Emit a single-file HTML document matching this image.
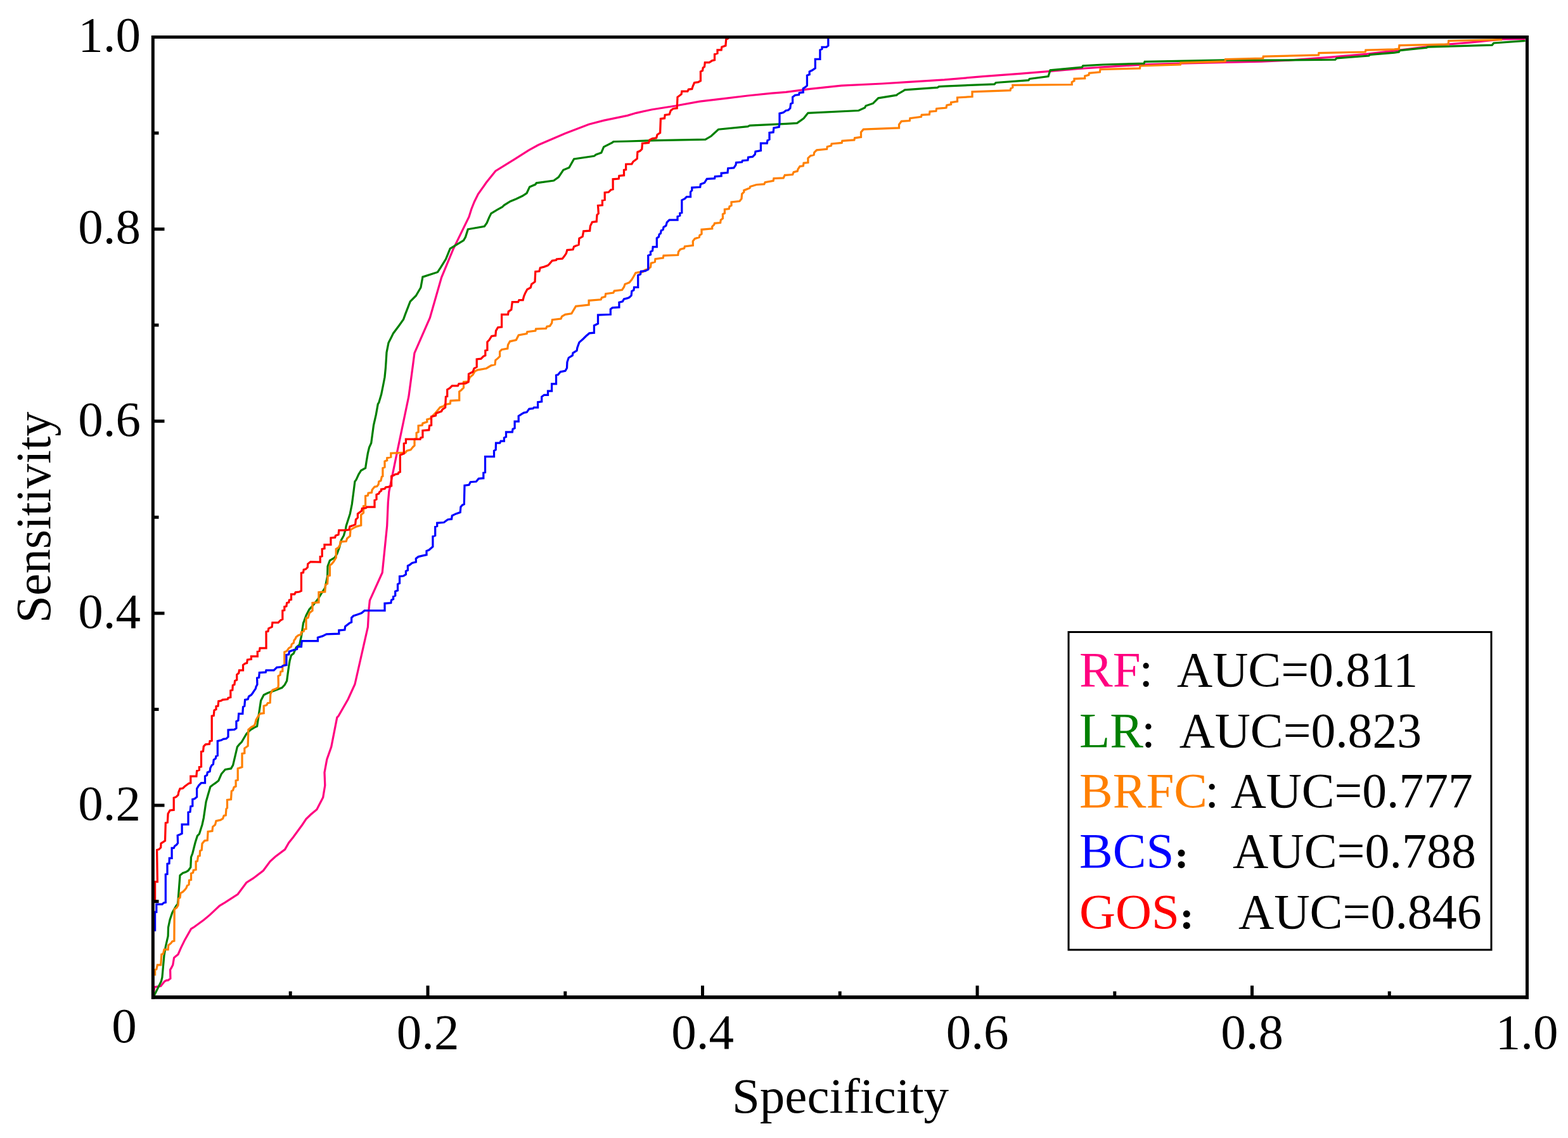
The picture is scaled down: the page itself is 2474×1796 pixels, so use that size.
<!DOCTYPE html>
<html><head><meta charset="utf-8"><style>
html,body{margin:0;padding:0;background:#fff;}
svg{display:block;}
text{font-family:"Liberation Serif","Noto Serif CJK SC",serif;font-size:79px;fill:#000;}
</style></head><body>
<svg width="2474" height="1796" viewBox="0 0 2474 1796">
<rect width="2474" height="1796" fill="#fff"/>
<g fill="none" stroke-width="3.25" stroke-linejoin="miter" stroke-miterlimit="2" stroke-linecap="butt">
<polyline points="241.5,1574.2 243.8,1557.8 253.7,1556.3 259.7,1548.7 262.8,1547.2 265.1,1547.2 268.9,1544.2 268.6,1530.5 270.4,1527.4 272.7,1522.9 274.6,1511.5 277.2,1509.2 281.0,1506.2 285.6,1495.6 291.6,1483.4 301.5,1465.9 305.3,1463.7 322.0,1451.5 331.1,1443.9 346.3,1429.5 355.4,1424.2 375.2,1411.3 388.8,1393.0 399.5,1386.2 415.4,1374.0 426.1,1359.6 434.4,1352.0 449.6,1340.6 455.7,1330.0 462.5,1321.5 476.9,1301.7 483.0,1292.6 490.0,1285.8 499.9,1277.4 509.7,1258.5 512.8,1239.5 512.0,1219.0 515.8,1198.5 522.7,1178.7 531.8,1132.4 534.0,1130.1 549.2,1103.5 559.9,1080.0 580.4,989.5 581.9,962.1 583.4,947.7 603.2,903.7 610.7,830.0 612.3,792.6 613.8,775.9 618.3,753.9 627.5,709.1 644.9,625.6 651.0,580.0 654.0,557.1 678.3,501.6 696.6,437.8 714.8,393.8 740.0,342.2 743.8,330.0 748.4,318.5 754.4,306.3 767.3,288.1 781.8,269.9 811.4,251.6 834.2,237.2 849.4,228.8 891.9,210.6 929.1,196.2 952.6,190.1 990.0,182.3 1003.7,178.3 1028.0,173.0 1065.9,167.0 1103.9,160.1 1141.9,155.6 1179.9,151.0 1217.8,147.2 1240.0,145.3 1278.0,140.4 1327.3,135.1 1391.9,132.0 1429.9,129.7 1490.0,125.9 1550.8,120.6 1611.5,116.1 1657.1,112.3 1702.6,108.5 1740.0,105.8 1806.1,101.8 1861.3,100.2 1932.9,98.5 1990.0,97.1 2034.1,95.2 2100.2,90.2 2155.3,85.3 2200.0,80.2 2248.6,74.1 2285.1,69.9 2321.5,66.8 2370.1,62.0 2406.6,61.4" stroke="#FF0080"/>
<polyline points="241.5,1574.2 243.8,1570.0 254.4,1548.7 255.9,1542.6 259.0,1507.7 261.3,1494.0 265.1,1477.3 265.5,1463.7 268.1,1451.5 271.9,1440.1 278.0,1429.5 280.2,1427.2 281.0,1421.1 284.0,1381.6 288.6,1377.8 293.2,1376.3 297.0,1374.0 300.8,1368.7 301.5,1352.8 303.8,1346.7 308.0,1330.0 311.4,1319.2 314.4,1316.2 319.0,1301.7 321.3,1291.1 325.1,1265.3 328.1,1254.7 331.9,1241.8 335.7,1238.7 340.2,1235.7 344.8,1231.9 349.4,1221.3 355.4,1214.4 364.5,1212.9 367.6,1207.6 374.4,1178.7 377.5,1174.9 381.3,1171.1 388.8,1158.2 394.9,1152.1 401.0,1148.3 405.6,1146.1 411.6,1105.8 416.2,1096.7 422.3,1093.7 432.9,1089.9 445.0,1085.3 449.2,1080.8 452.6,1074.5 454.2,1062.4 455.7,1051.7 457.2,1042.6 459.5,1034.3 463.3,1031.2 467.1,1022.1 472.4,1017.6 475.4,1004.7 478.5,983.4 480.0,979.6 483.0,971.3 488.0,961.8 494.6,954.5 502.2,944.7 506.7,937.1 512.8,928.0 516.6,909.7 517.0,893.8 520.4,884.7 528.0,880.1 531.8,874.0 535.6,863.4 538.6,852.0 542.4,845.2 545.4,834.6 546.2,830.0 552.3,810.9 555.3,795.7 558.3,772.9 559.9,760.0 562.1,756.9 565.9,748.6 569.7,742.5 576.6,738.7 578.1,728.8 580.4,715.2 582.6,706.1 585.7,699.2 589.5,671.1 593.3,654.4 596.3,637.7 597.8,635.4 601.6,622.5 604.7,607.3 607.0,595.2 608.5,580.0 610.0,556.3 613.0,541.1 617.6,532.0 620.6,525.9 629.7,513.8 636.6,503.9 639.6,495.6 647.2,475.8 656.3,466.7 663.9,453.8 666.9,437.1 690.5,429.5 695.0,422.6 703.4,409.0 710.2,392.3 731.5,379.4 734.5,374.0 738.3,361.9 740.0,361.5 764.3,357.3 768.1,352.0 771.9,342.9 774.9,336.8 784.4,331.1 792.4,326.8 795.4,323.8 805.3,317.7 814.4,313.9 824.3,309.3 831.1,304.8 835.7,294.9 844.8,291.1 846.3,288.8 873.7,285.0 881.3,279.7 888.8,268.3 898.0,264.5 905.6,250.9 937.4,246.3 940.5,244.0 948.8,241.0 952.6,231.9 966.3,225.0 967.8,223.5 990.0,223.0 1035.6,221.6 1113.0,220.1 1122.1,214.8 1133.5,204.2 1179.9,199.6 1182.9,198.1 1240.0,195.4 1257.5,194.3 1268.1,186.7 1274.9,178.3 1354.7,174.5 1364.5,170.0 1366.1,167.0 1377.5,163.2 1385.8,154.8 1414.7,150.2 1416.2,148.7 1425.3,143.4 1427.6,141.9 1479.2,138.1 1481.5,136.6 1490.0,136.2 1569.0,132.8 1571.3,130.5 1622.9,126.7 1624.4,124.4 1654.0,120.6 1657.1,110.8 1707.2,106.2 1708.7,103.9 1740.0,102.0 1805.0,100.2 1806.1,97.4 1932.4,95.0 1990.0,95.2 2106.8,94.1 2109.0,91.9 2159.8,88.0 2161.4,86.4 2200.0,83.2 2207.3,82.0 2208.5,79.6 2251.0,75.3 2252.2,74.1 2354.3,71.1 2356.7,68.0 2406.6,64.4" stroke="#008000"/>
<polyline points="241.5,1574.2 241.5,1538.1 244.6,1538.1 244.6,1530.5 246.8,1529.7 248.4,1522.9 253.7,1522.9 254.9,1506.2 257.5,1505.4 259.0,1498.6 265.1,1498.6 265.8,1491.8 269.6,1488.7 271.9,1485.7 274.9,1484.9 275.2,1434.8 278.7,1432.5 281.0,1428.7 281.8,1418.1 284.0,1416.6 284.8,1409.7 288.6,1407.5 291.6,1404.4 293.9,1401.4 295.4,1397.6 298.0,1396.1 298.5,1389.2 301.5,1388.5 301.5,1378.6 304.6,1377.1 305.3,1373.3 309.1,1372.5 309.1,1359.6 311.4,1358.9 312.6,1351.3 315.2,1350.5 315.6,1342.9 318.2,1341.4 319.0,1331.5 322.8,1326.8 327.3,1326.1 328.1,1312.4 334.9,1311.6 335.7,1304.8 339.5,1301.7 341.0,1295.7 347.8,1294.2 351.6,1291.9 353.2,1287.3 356.2,1286.6 357.0,1276.7 358.5,1275.2 358.5,1262.3 364.5,1261.5 365.3,1248.6 367.6,1247.1 369.1,1242.5 372.1,1241.0 372.1,1231.9 375.2,1231.1 375.2,1212.9 382.0,1210.6 382.0,1189.4 385.8,1188.6 385.8,1181.0 391.1,1177.2 391.9,1151.4 396.4,1147.6 401.0,1145.3 402.5,1142.3 404.0,1136.2 407.1,1130.9 410.1,1126.3 416.2,1125.6 416.2,1114.2 420.7,1112.7 422.3,1109.6 426.1,1108.9 426.8,1095.2 429.9,1089.1 435.9,1086.8 439.0,1084.6 439.3,1080.0 439.0,1066.9 442.0,1065.4 442.8,1060.1 445.8,1059.3 445.8,1051.0 448.8,1050.2 448.8,1029.0 452.6,1027.4 455.7,1022.9 459.5,1020.6 460.2,1016.8 463.3,1014.5 464.0,1010.7 466.3,1007.7 467.1,1005.4 470.9,1002.4 474.7,1001.6 475.4,997.8 479.2,996.3 480.0,993.3 483.0,992.5 483.0,975.8 486.1,975.0 488.4,967.1 493.0,963.7 493.0,951.5 502.9,950.7 502.9,934.8 512.8,934.0 513.5,922.6 516.6,921.1 517.3,909.0 520.4,908.2 520.4,892.3 523.4,890.0 526.5,886.2 530.2,880.1 530.2,866.5 534.0,864.2 536.3,860.4 537.1,855.1 546.2,854.3 547.7,849.7 552.3,845.9 553.0,836.1 556.8,833.8 562.1,831.1 569.7,829.1 569.7,812.4 573.5,809.3 573.5,798.7 576.6,798.0 576.6,782.8 580.4,782.0 581.1,778.2 586.4,777.4 587.2,772.9 591.0,768.3 594.8,767.6 597.1,764.5 597.8,760.0 600.9,758.5 602.4,752.4 603.9,751.6 603.9,738.7 607.0,737.2 607.0,728.1 610.7,726.6 610.7,722.8 616.8,721.3 616.8,715.2 639.6,714.4 641.9,711.4 648.0,709.9 651.0,706.1 654.0,703.0 654.0,693.2 657.1,691.6 657.1,683.3 660.1,681.8 660.1,671.9 666.2,671.1 666.9,668.1 673.8,665.8 673.8,662.0 679.1,660.5 681.4,657.5 687.4,651.4 691.2,646.8 694.3,643.0 700.4,640.8 701.9,638.5 710.2,637.0 711.0,632.4 724.7,631.6 724.7,618.0 727.7,615.7 731.5,611.9 731.5,602.8 738.8,602.0 741.5,595.2 746.1,591.4 749.1,586.1 753.7,583.8 767.3,581.5 774.9,576.8 781.0,575.3 781.8,568.5 785.6,565.4 788.6,562.4 788.6,554.8 791.6,551.7 800.8,550.2 801.5,544.2 804.6,538.8 814.4,536.6 818.2,529.0 831.1,526.7 831.9,523.7 844.8,522.1 845.6,519.1 861.5,518.3 863.0,515.3 867.6,514.5 870.6,510.0 871.4,504.7 885.0,503.1 886.6,499.3 891.9,496.3 901.8,494.8 904.0,491.0 908.6,483.4 929.1,481.1 929.1,474.3 948.1,472.8 949.6,469.7 954.9,468.2 955.7,463.7 967.8,462.1 969.3,459.1 981.5,457.6 984.5,453.0 986.1,448.5 990.0,447.1 993.0,445.8 996.8,441.3 999.1,437.5 1002.9,430.6 1006.7,429.9 1014.3,429.1 1017.3,426.1 1022.7,424.5 1026.5,421.5 1027.2,415.4 1033.3,413.2 1034.0,408.6 1046.2,407.1 1047.0,403.3 1069.7,402.5 1070.5,397.2 1073.5,393.4 1079.6,391.9 1080.4,388.9 1093.3,387.3 1093.3,380.5 1096.3,376.7 1103.2,374.4 1103.9,371.4 1107.0,369.1 1107.0,362.3 1123.7,360.8 1123.7,357.7 1126.7,354.7 1127.5,352.4 1136.6,351.6 1137.3,347.1 1140.4,344.8 1140.4,338.0 1143.4,336.5 1143.4,330.4 1150.2,329.6 1151.0,325.8 1154.0,324.3 1154.0,319.0 1166.9,317.5 1170.0,313.7 1170.7,306.1 1173.8,303.0 1173.8,300.4 1182.9,296.8 1183.7,294.5 1193.5,291.5 1205.7,290.7 1207.2,287.7 1220.1,285.4 1220.9,281.6 1236.1,280.9 1238.3,276.3 1240.0,276.3 1250.6,275.5 1252.2,271.7 1258.2,270.2 1259.0,267.2 1262.0,262.6 1267.3,261.9 1268.1,257.3 1274.9,256.6 1274.9,249.7 1278.7,245.9 1284.0,244.4 1284.8,240.6 1288.6,236.8 1304.6,235.3 1305.3,231.5 1311.4,230.0 1312.1,226.9 1328.1,225.4 1328.9,222.4 1347.8,220.9 1348.6,217.8 1358.5,216.3 1358.5,208.7 1362.3,204.2 1418.5,201.9 1418.5,196.6 1422.3,191.3 1435.2,190.5 1435.9,186.7 1453.4,184.4 1454.2,181.4 1466.3,180.6 1467.1,176.1 1476.9,175.3 1477.7,171.5 1490.0,170.4 1493.0,170.0 1493.8,166.2 1500.6,164.7 1500.6,161.6 1510.5,160.1 1510.5,154.0 1534.0,152.5 1534.0,144.9 1594.0,142.6 1594.8,139.6 1597.8,138.1 1597.8,134.3 1691.2,133.5 1691.2,129.7 1695.0,127.5 1695.0,124.4 1711.7,123.7 1711.7,119.9 1717.8,118.3 1718.6,115.3 1735.3,113.8 1736.1,109.2 1740.0,109.3 1798.4,107.9 1799.0,104.0 1862.4,101.8 1862.9,99.1 1932.9,96.8 1933.5,93.5 1990.0,92.2 1992.8,91.9 1993.3,89.1 2080.4,86.9 2080.9,83.6 2154.2,82.0 2154.8,79.2 2200.0,77.8 2207.3,77.2 2207.9,71.7 2285.1,69.9 2285.7,64.4 2370.1,62.6" stroke="#FF8000"/>
<polyline points="241.5,1574.2 241.5,1468.2 244.6,1468.2 244.6,1439.4 246.8,1439.4 246.8,1427.2 255.9,1427.2 258.2,1424.9 261.3,1424.2 261.3,1380.1 264.0,1379.4 264.0,1363.4 267.0,1362.7 267.3,1354.3 271.1,1354.3 271.1,1338.4 274.2,1338.4 275.7,1335.3 278.7,1333.0 280.6,1330.4 280.2,1318.5 284.0,1316.9 287.1,1315.4 287.1,1301.0 297.0,1301.0 297.0,1282.0 300.0,1281.2 300.8,1272.9 303.8,1272.1 303.8,1261.5 306.8,1260.7 310.6,1257.7 310.6,1244.8 313.7,1239.5 317.5,1235.7 323.5,1235.7 323.5,1225.0 326.6,1223.5 327.3,1219.0 331.1,1217.5 331.9,1212.1 334.2,1207.6 336.4,1206.1 337.2,1199.2 340.2,1197.0 341.0,1193.2 343.3,1192.4 343.3,1169.6 349.4,1168.1 352.4,1166.3 357.0,1165.8 360.0,1162.8 360.0,1152.1 369.9,1151.4 372.9,1149.1 372.9,1138.5 375.9,1137.0 376.7,1126.3 382.8,1126.3 383.5,1115.7 385.8,1114.2 386.6,1104.3 391.1,1103.5 392.6,1099.0 396.4,1096.7 398.7,1093.7 400.2,1091.4 403.3,1086.8 404.0,1083.8 405.9,1080.4 405.6,1070.0 408.6,1069.2 409.3,1061.6 419.2,1060.9 420.0,1057.8 432.1,1057.8 436.7,1053.3 444.3,1052.5 447.3,1050.2 451.9,1049.5 451.9,1033.5 455.7,1032.8 456.4,1028.2 463.3,1025.9 468.6,1024.4 469.3,1020.6 475.4,1020.6 476.2,1011.5 490.0,1011.5 501.4,1011.5 501.4,1006.2 509.0,1003.9 515.1,1000.9 534.8,1000.1 534.8,994.8 543.9,994.0 544.7,988.7 551.5,983.4 554.6,981.9 554.6,975.0 557.6,972.0 564.4,969.7 570.5,967.5 575.1,963.7 607.0,963.7 607.0,952.3 616.8,951.5 617.6,947.0 620.6,945.4 620.6,941.6 623.7,940.1 623.7,933.3 627.5,931.8 627.5,921.9 630.5,920.4 630.5,909.7 636.6,909.0 640.4,906.7 640.4,901.4 643.4,899.9 643.4,893.0 646.4,891.5 650.2,888.5 656.3,887.0 656.3,881.6 660.1,878.6 666.2,877.1 673.0,875.6 673.0,869.5 676.8,868.0 682.9,862.7 682.9,846.7 686.7,845.2 686.7,831.5 689.7,830.4 689.7,825.3 700.4,824.5 703.4,822.3 706.4,820.0 712.5,819.2 713.3,813.9 719.3,810.9 726.2,808.6 726.9,800.2 729.2,797.2 732.3,795.7 733.0,766.1 740.0,765.3 742.3,760.7 751.4,760.0 755.2,755.4 762.8,754.7 762.8,746.3 765.5,745.6 765.5,720.5 779.5,720.5 779.5,711.4 782.2,709.9 782.5,699.2 788.6,699.2 790.1,696.2 795.4,696.2 795.4,690.9 798.5,689.4 798.5,681.8 808.3,681.8 809.1,677.2 812.1,675.7 812.1,665.1 818.2,665.1 818.2,656.7 822.8,653.7 826.6,651.4 831.1,650.6 834.9,645.3 841.0,644.6 842.5,643.0 848.6,643.0 848.6,634.7 854.7,633.9 854.7,626.3 858.5,623.3 864.5,623.3 864.5,617.2 870.6,617.2 870.6,605.8 877.5,605.8 877.5,592.2 880.5,591.4 884.3,586.8 891.9,585.3 894.5,580.8 894.9,571.5 897.2,564.7 903.3,560.9 904.0,557.1 910.1,553.3 910.9,548.7 913.9,540.4 920.0,535.0 924.5,530.5 929.9,525.9 937.4,525.2 937.4,513.8 943.5,510.7 943.5,497.1 963.3,496.3 963.3,488.0 966.3,485.7 976.9,484.9 976.9,477.3 982.3,475.8 984.5,472.0 990.0,470.7 993.0,469.3 996.1,466.3 996.8,459.5 999.9,458.0 1000.6,453.4 1006.7,453.4 1006.7,434.4 1010.5,432.9 1011.3,428.3 1018.1,427.6 1019.6,426.8 1022.7,425.3 1022.7,403.3 1026.5,401.8 1026.5,397.2 1029.5,395.7 1030.2,389.6 1036.3,389.6 1036.3,375.9 1039.4,373.7 1040.1,369.9 1042.4,368.3 1043.2,363.8 1046.2,362.3 1047.0,358.5 1050.8,356.2 1052.3,350.9 1056.1,347.1 1069.0,347.1 1069.0,341.8 1072.8,340.2 1072.8,336.5 1075.8,335.7 1075.8,315.9 1080.4,313.7 1083.4,310.6 1089.5,310.6 1089.5,303.0 1091.8,300.4 1091.8,296.1 1104.7,295.3 1105.4,290.7 1111.5,288.5 1115.3,282.4 1127.5,281.6 1128.2,278.6 1138.1,277.8 1138.1,273.3 1148.0,272.5 1148.7,265.7 1157.8,264.9 1160.9,260.4 1161.6,256.6 1170.7,255.8 1171.5,253.5 1179.9,252.8 1180.6,248.2 1187.4,247.4 1191.2,243.7 1192.0,239.1 1200.4,237.6 1200.4,226.2 1210.2,226.2 1211.0,221.6 1214.0,220.1 1214.0,209.5 1220.1,208.7 1220.9,201.9 1229.2,200.4 1230.0,194.3 1230.0,179.1 1236.1,177.6 1240.0,174.5 1243.8,173.8 1246.8,170.7 1247.6,163.9 1250.6,162.4 1250.6,153.3 1254.4,150.2 1260.5,149.5 1261.3,146.4 1267.3,145.7 1267.3,139.6 1271.9,136.6 1273.4,135.1 1273.4,119.1 1277.2,117.6 1277.2,113.0 1281.8,110.8 1286.3,107.7 1286.3,93.3 1293.9,93.3 1293.9,78.9 1297.0,77.3 1297.0,74.3 1303.8,74.3 1306.8,72.0 1306.8,60.6 1306.8,58.4 2409.0,58.4" stroke="#0000FF"/>
<polyline points="241.5,1574.2 241.5,1419.6 244.6,1419.6 244.6,1391.5 248.4,1391.5 247.6,1341.4 250.6,1340.6 253.7,1337.6 254.0,1331.1 260.5,1326.8 261.3,1298.7 264.3,1298.0 265.1,1284.3 268.1,1279.0 274.2,1278.2 274.2,1259.2 278.0,1257.7 281.0,1254.7 281.8,1250.1 284.0,1244.8 288.6,1244.0 291.6,1241.0 294.7,1238.7 297.7,1236.4 300.8,1235.7 300.8,1225.0 309.9,1225.0 310.6,1216.7 314.4,1215.2 314.4,1210.6 317.5,1209.9 317.5,1186.3 320.5,1185.6 321.3,1178.0 324.3,1174.9 330.4,1174.2 331.1,1169.6 334.2,1168.9 334.2,1130.1 337.2,1129.4 338.0,1121.0 341.0,1119.5 341.0,1114.9 344.0,1114.2 344.8,1106.6 349.4,1105.8 350.9,1104.3 359.2,1103.5 360.0,1101.3 363.8,1100.5 363.8,1089.9 366.8,1089.1 367.3,1081.5 369.9,1080.4 370.6,1074.5 373.7,1073.0 373.7,1064.7 376.7,1062.4 377.5,1057.8 383.5,1057.8 383.5,1049.5 386.6,1047.2 389.6,1046.4 390.4,1041.1 396.4,1040.4 396.4,1035.8 406.3,1035.8 406.3,1028.2 409.3,1027.4 410.1,1022.9 420.0,1022.9 420.0,997.1 423.0,996.3 423.8,991.8 429.1,989.5 429.9,982.6 439.0,982.6 442.8,978.8 445.8,977.3 445.8,963.7 448.8,962.9 448.8,957.6 451.9,956.8 452.6,951.5 455.7,950.7 456.4,947.0 459.5,946.2 459.5,937.8 464.8,937.8 466.3,934.8 472.4,934.0 475.4,932.5 475.4,904.4 478.5,903.7 479.2,899.1 482.3,898.3 485.3,895.3 485.7,890.0 490.0,886.6 505.2,887.0 505.2,878.6 508.2,877.8 508.2,866.5 512.0,865.7 512.0,859.6 521.9,859.6 521.9,849.0 528.7,848.2 529.5,845.2 534.0,843.7 534.8,836.8 543.9,836.8 550.8,836.1 551.9,831.1 557.6,829.1 560.6,827.6 561.4,820.0 564.4,816.9 564.4,810.9 567.5,808.6 570.5,806.3 571.3,802.5 577.3,801.7 578.9,800.2 591.0,800.2 591.0,789.6 594.0,788.1 594.0,780.5 597.8,779.0 598.6,776.7 601.6,774.4 601.6,772.1 607.0,771.4 608.5,769.1 613.0,768.3 617.6,766.8 617.6,751.6 621.4,750.1 623.7,748.6 628.2,747.8 629.0,745.6 631.3,744.8 631.3,718.2 635.0,716.7 637.3,715.9 637.3,700.0 640.4,699.2 640.4,693.2 654.0,693.2 663.1,693.2 663.9,690.9 666.9,690.1 666.9,679.5 676.8,678.7 677.6,671.9 680.6,671.1 680.6,657.5 684.4,656.7 687.4,655.9 688.2,652.1 696.6,649.1 698.1,646.1 702.6,643.0 703.4,626.3 705.7,625.6 705.7,614.9 709.5,612.7 713.3,608.9 722.4,608.9 723.9,605.8 731.5,605.1 734.5,605.1 739.1,602.8 739.5,590.3 746.1,586.8 748.0,581.5 752.2,579.1 752.2,566.9 759.0,566.2 762.8,562.4 765.8,560.9 765.8,553.3 768.9,552.5 768.9,539.6 771.9,536.6 775.7,530.5 781.8,529.7 782.5,522.1 785.6,516.8 791.6,516.1 791.6,496.3 801.5,496.3 802.3,491.8 806.8,488.7 808.3,476.6 817.5,476.6 819.0,473.5 825.1,473.5 826.6,467.5 828.9,462.1 831.9,456.8 837.2,453.8 838.7,448.5 844.0,444.7 844.8,428.7 850.9,428.0 852.4,422.6 858.5,421.1 864.5,418.9 866.8,416.6 871.4,411.3 877.5,410.5 878.2,409.0 887.3,408.2 890.4,404.4 893.4,399.9 894.9,394.6 904.0,393.8 905.6,389.2 913.1,386.2 913.9,376.3 919.2,373.3 920.7,364.9 930.6,364.2 931.4,356.6 934.4,350.5 941.2,349.7 942.0,339.1 944.3,336.8 943.9,330.0 943.5,324.5 950.4,323.8 950.4,316.2 954.2,315.4 954.2,304.0 960.2,303.3 964.0,299.5 967.1,298.7 967.1,282.8 976.2,282.0 976.9,277.4 984.5,276.7 984.5,268.3 987.6,267.6 987.6,259.2 990.0,259.0 996.8,258.8 999.1,255.0 1005.2,250.5 1005.9,239.9 1009.7,238.3 1012.8,235.3 1013.5,226.2 1023.4,225.4 1024.9,220.9 1029.5,218.6 1035.6,217.8 1037.1,212.5 1041.6,209.5 1042.4,187.5 1048.5,186.7 1049.2,181.4 1056.1,180.6 1058.3,174.5 1062.1,171.5 1068.2,170.7 1069.0,153.3 1075.1,148.7 1075.8,144.2 1084.9,144.2 1086.4,141.1 1091.8,140.4 1093.3,135.8 1095.6,130.5 1101.6,129.7 1105.4,127.5 1105.4,113.0 1108.5,111.5 1109.2,107.0 1111.5,105.4 1112.3,98.6 1119.1,98.6 1123.7,95.6 1127.5,94.8 1127.5,85.7 1132.0,84.2 1132.0,78.9 1138.1,78.9 1138.8,74.3 1144.9,72.0 1145.7,62.2 1148.7,60.6 1148.7,58.4 2409.0,58.4" stroke="#FF0000"/>
</g>
<g stroke="#000" stroke-width="5" fill="none">
<line x1="239" y1="58.4" x2="2412" y2="58.4"/>
<line x1="241.3" y1="56" x2="241.3" y2="1576.8"/>
<line x1="2409.5" y1="56" x2="2409.5" y2="1576.8"/>
<line x1="239" y1="1573.9" x2="2412" y2="1573.9" stroke-width="5.8"/>
<line x1="241.5" y1="1422.6" x2="250.5" y2="1422.6"/>
<line x1="241.5" y1="1271.0" x2="259.5" y2="1271.0"/>
<line x1="241.5" y1="1119.5" x2="250.5" y2="1119.5"/>
<line x1="241.5" y1="967.9" x2="259.5" y2="967.9"/>
<line x1="241.5" y1="816.3" x2="250.5" y2="816.3"/>
<line x1="241.5" y1="664.7" x2="259.5" y2="664.7"/>
<line x1="241.5" y1="513.1" x2="250.5" y2="513.1"/>
<line x1="241.5" y1="361.6" x2="259.5" y2="361.6"/>
<line x1="241.5" y1="210.0" x2="250.5" y2="210.0"/>
<line x1="458.2" y1="1574" x2="458.2" y2="1564.5"/>
<line x1="675.0" y1="1574" x2="675.0" y2="1555.5"/>
<line x1="891.8" y1="1574" x2="891.8" y2="1564.5"/>
<line x1="1108.5" y1="1574" x2="1108.5" y2="1555.5"/>
<line x1="1325.2" y1="1574" x2="1325.2" y2="1564.5"/>
<line x1="1542.0" y1="1574" x2="1542.0" y2="1555.5"/>
<line x1="1758.8" y1="1574" x2="1758.8" y2="1564.5"/>
<line x1="1975.5" y1="1574" x2="1975.5" y2="1555.5"/>
<line x1="2192.2" y1="1574" x2="2192.2" y2="1564.5"/>
</g>
<g>
<text x="222" y="81.2" text-anchor="end">1.0</text>
<text x="222" y="384.4" text-anchor="end">0.8</text>
<text x="222" y="687.5" text-anchor="end">0.6</text>
<text x="222" y="990.7" text-anchor="end">0.4</text>
<text x="222" y="1293.8" text-anchor="end">0.2</text>
<text x="675.0" y="1655" text-anchor="middle">0.2</text>
<text x="1108.5" y="1655" text-anchor="middle">0.4</text>
<text x="1542.0" y="1655" text-anchor="middle">0.6</text>
<text x="1975.5" y="1655" text-anchor="middle">0.8</text>
<text x="2409.0" y="1655" text-anchor="middle">1.0</text>
<text x="196" y="1645" text-anchor="middle">0</text>
<text x="1326" y="1756" text-anchor="middle">Specificity</text>
<text transform="translate(78.5,816.5) rotate(-90)" text-anchor="middle" style="font-size:78px">Sensitivity</text>
</g>
<rect x="1686" y="997.5" width="667" height="501.5" fill="none" stroke="#000" stroke-width="3"/>
<text x="1703" y="1083.0" fill="#FF0080" style="fill:#FF0080">RF</text>
<text x="1797.3" y="1083.0">:</text>
<text x="1857.0" y="1083.0" textLength="380.1" lengthAdjust="spacingAndGlyphs">AUC=0.811</text>
<text x="1703" y="1179.0" fill="#008000" style="fill:#008000">LR</text>
<text x="1801.1" y="1179.0">:</text>
<text x="1860.8" y="1179.0" textLength="382.2" lengthAdjust="spacingAndGlyphs">AUC=0.823</text>
<text x="1703" y="1273.5" fill="#FF8000" style="fill:#FF8000">BRFC</text>
<text x="1901.2" y="1273.5">:</text>
<text x="1941.8" y="1273.5" textLength="381.9" lengthAdjust="spacingAndGlyphs">AUC=0.777</text>
<text x="1703" y="1369.3" fill="#0000FF" style="fill:#0000FF">BCS</text>
<text x="1854.3" y="1369.3" style="font-weight:bold;font-size:60px" stroke="#000" stroke-width="1.4">:</text>
<text x="1945.1" y="1369.3" textLength="383.8" lengthAdjust="spacingAndGlyphs">AUC=0.788</text>
<text x="1703" y="1465.4" fill="#FF0000" style="fill:#FF0000">GOS</text>
<text x="1862.6" y="1465.4" style="font-weight:bold;font-size:60px" stroke="#000" stroke-width="1.4">:</text>
<text x="1954.1" y="1465.4" textLength="383.6" lengthAdjust="spacingAndGlyphs">AUC=0.846</text>
</svg>
</body></html>
